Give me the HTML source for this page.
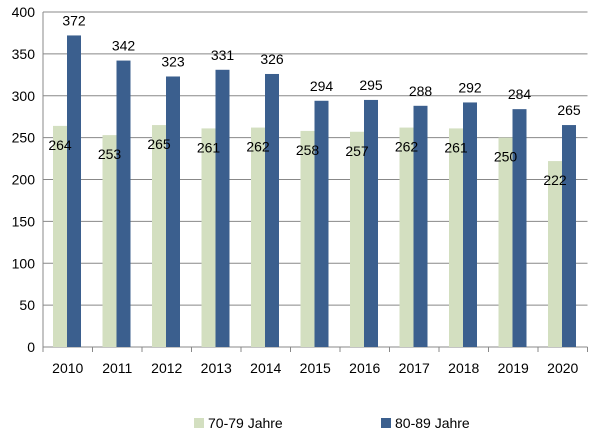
<!DOCTYPE html>
<html><head><meta charset="utf-8"><style>
body{margin:0;background:#fff;width:608px;height:442px;overflow:hidden}
svg text{font-family:"Liberation Sans",sans-serif;font-size:14px;fill:#000}
</style></head><body>
<svg id="chart" width="608" height="442" xmlns="http://www.w3.org/2000/svg"></svg>
<script>
const categories=["2010","2011","2012","2013","2014","2015","2016","2017","2018","2019","2020"];
const series70=[264,253,265,261,262,258,257,262,261,250,222];
const series80=[372,342,323,331,326,294,295,288,292,284,265];
const yTicks=[0,50,100,150,200,250,300,350,400];
const seriesNames=["70-79 Jahre","80-89 Jahre"];
const colors=["#d3dfc0","#3b5f8e"];
const NS="http://www.w3.org/2000/svg";
const svg=document.getElementById('chart');
const x0=43,x1=587.5,y0=347,y1=12,yMax=400;
const cw=(x1-x0)/categories.length;
const y=v=>y0-(v/yMax)*(y0-y1);
function el(t,a,p){const e=document.createElementNS(NS,t);for(const k in a)e.setAttribute(k,a[k]);(p||svg).appendChild(e);return e;}
yTicks.forEach(v=>{
  const g=el('line',{x1:x0,x2:x1,y1:y(v),y2:y(v),stroke:'#888','stroke-width':1});
  
  
  const t=el('text',{x:x0-8,y:y(v)+5,'text-anchor':'end'});t.textContent=v;
  
  
});
const ax=el('line',{x1:x0,x2:x0,y1:y1,y2:y0+5,stroke:'#888'});


for(let i=0;i<=categories.length;i++){
  const tk=el('line',{x1:x0+i*cw,x2:x0+i*cw,y1:y0,y2:y0+5,stroke:'#888'});
  
  
}
categories.forEach((c,i)=>{
  const cx=x0+i*cw, bw=14, bx=cx+10;
  const b1=el('rect',{x:bx,y:y(series70[i]),width:bw,height:y0-y(series70[i]),fill:colors[0]});
  
  
  const b2=el('rect',{x:bx+bw,y:y(series80[i]),width:bw,height:y0-y(series80[i]),fill:colors[1]});
  
  
  const l1=el('text',{x:bx+bw/2,y:y(series70[i])+24,'text-anchor':'middle'});l1.textContent=series70[i];
  
  
  const l2=el('text',{x:bx+bw*1.5,y:y(series80[i])-10,'text-anchor':'middle'});l2.textContent=series80[i];
  
  
  const xl=el('text',{x:cx+cw/2,y:373,'text-anchor':'middle'});xl.textContent=c;
  
  
});
const legX=[194,381];
seriesNames.forEach((n,i)=>{
  const s=el('rect',{x:legX[i],y:418,width:10,height:10,fill:colors[i]});
  
  
  const t=el('text',{x:legX[i]+14,y:428});t.textContent=n;
  
  
});
</script>
</body></html>
